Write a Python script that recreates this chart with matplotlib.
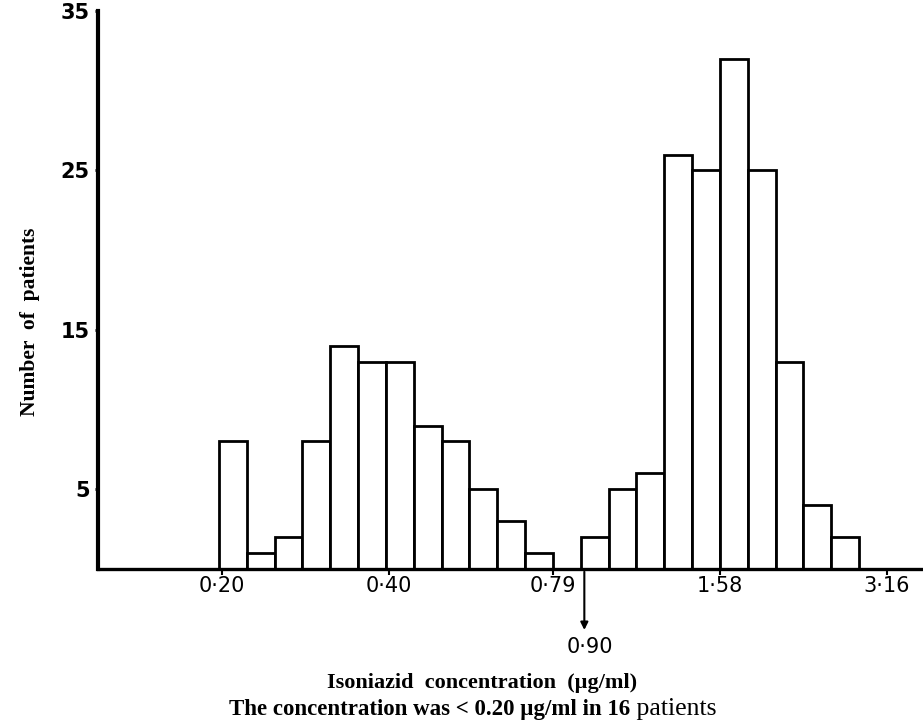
import numpy as np
import matplotlib
matplotlib.use("Agg")
import matplotlib.pyplot as plt

# patients per bin, bins are 1/6 of a doubling wide, starting at 0.1975 ug/ml
counts = [8, 1, 2, 8, 14, 13, 13, 9, 8, 5, 3, 1,
          0, 2, 5, 6, 26, 25, 32, 25, 13, 4, 2]
bin_start = 0.1975
bins_per_doubling = 6

xtick_vals = [0.20, 0.40, 0.79, 1.58, 3.16]
xtick_labels = ["0·20", "0·40", "0·79", "1·58", "3·16"]
ytick_vals = [5, 15, 25, 35]
cutoff_val = 0.90
cutoff_label = "0·90"

edges = bin_start * 2.0 ** (np.arange(len(counts) + 1) / bins_per_doubling)
lefts = edges[:-1]
widths = np.diff(edges)

fig = plt.figure(figsize=(9.23, 7.25), dpi=100)
ax = fig.add_axes([0.106, 0.2152, 0.894, 0.7695])

ax.bar(lefts, counts, width=widths, align="edge", color="white",
       edgecolor="black", linewidth=2.0, zorder=2)

ax.set_xscale("log", base=2)
ax.set_xlim(0.1195, 3.67)
ax.set_ylim(0, 35)

ax.spines["top"].set_visible(False)
ax.spines["right"].set_visible(False)
ax.spines["left"].set_linewidth(3.0)
ax.spines["bottom"].set_linewidth(2.4)
ax.spines["left"].set_zorder(3)
ax.spines["bottom"].set_zorder(3)

ax.set_xticks(xtick_vals)
ax.set_xticklabels(xtick_labels, fontsize=15, family="DejaVu Sans")
ax.xaxis.set_minor_locator(matplotlib.ticker.NullLocator())
ax.tick_params(axis="x", direction="out", length=4, width=1.5, pad=1)

ax.set_yticks(ytick_vals)
ax.set_yticklabels([str(v) for v in ytick_vals], fontsize=15,
                   fontweight="bold", family="DejaVu Sans")
ax.tick_params(axis="y", direction="out", length=2, width=2, pad=4)

# arrow marking 0.90
ax.annotate("", xy=(cutoff_val, -4.0), xytext=(cutoff_val, 0),
            arrowprops=dict(arrowstyle="-|>", color="black", lw=1.5,
                            mutation_scale=11),
            annotation_clip=False)
ax.text(cutoff_val * 1.025, -4.9, cutoff_label, ha="center", va="center",
        fontsize=15, family="DejaVu Sans", clip_on=False)

fig.text(0.033, 0.556, "Number  of  patients", rotation=90, ha="center",
         va="center", fontsize=15.5, fontweight="bold",
         family="Liberation Serif")

fig.text(0.522, 0.058, "Isoniazid  concentration  (µg/ml)", ha="center",
         va="center", fontsize=16, fontweight="bold",
         family="Liberation Serif")
t1 = fig.text(0.248, 0.021, "The concentration was < 0.20 µg/ml in 16",
              ha="left", va="center", fontsize=16.5, fontweight="bold",
              family="Liberation Serif")
ax.annotate(" patients", xy=(1, 0), xycoords=t1, ha="left", va="bottom",
            fontsize=18.5, family="Liberation Serif", annotation_clip=False)

fig.savefig("out.png", dpi=100)
